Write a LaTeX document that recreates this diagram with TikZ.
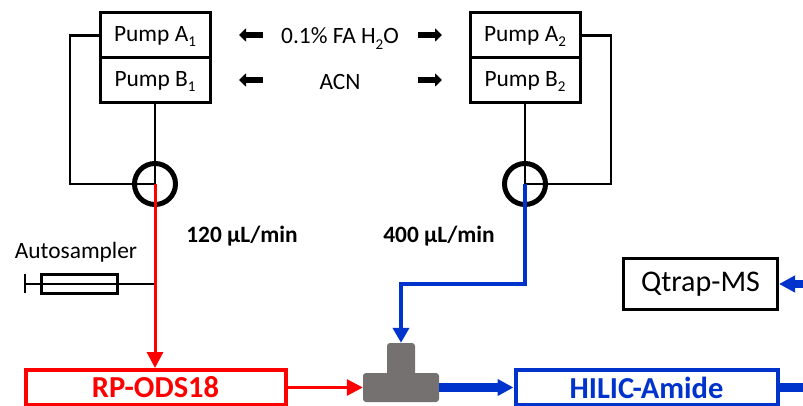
\documentclass[tikz,border=0pt]{standalone}
\usepackage{fontspec}
\setmainfont{Carlito}
\usetikzlibrary{arrows.meta}
\definecolor{hblue}{HTML}{0033CC}
\definecolor{tgray}{HTML}{767171}
\newcommand{\lowsub}[1]{\smash{\raisebox{-0.25em}{\fontsize{15}{15}\selectfont #1}}}
\tikzset{
  pumpbox/.style={draw=black,line width=3pt,fill=white,minimum width=110pt,minimum height=45pt,inner sep=0pt,font=\fontsize{23.4}{26}\selectfont},
  plain/.style={inner sep=0pt,font=\fontsize{23.4}{26}\selectfont},
  boldlabel/.style={inner sep=0pt,font=\fontsize{23.4}{26}\selectfont\bfseries},
  valve/.style={circle,draw=black,line width=5pt,minimum size=41pt,inner sep=0pt},
  tube/.style={draw=black,line width=2.9pt},
  column/.style={draw,line width=4pt,fill=white,minimum width=260pt,minimum height=35pt,inner sep=0pt,font=\fontsize{30.5}{32}\selectfont\bfseries},
  solvent/.style={-{Triangle[width=13pt,length=7pt]},line width=6.5pt,black},
  redthin/.style={draw=red,line width=3pt,-{Triangle[width=16pt,length=16pt]}},
  bluemid/.style={draw=hblue,line width=4.2pt,-{Triangle[width=16pt,length=15pt]}},
  bluethick/.style={draw=hblue,line width=8.5pt,-{Triangle[width=16pt,length=16pt]}},
  bluebar/.style={draw=hblue,line width=8.5pt},
  teepart/.style={fill=tgray,rounded corners=3pt,draw=none,inner sep=0pt},
}
\begin{document}
\begin{tikzpicture}[x=1pt,y=-1pt]
\useasboundingbox (0,0) rectangle (803,406);
\clip (0,0) rectangle (803,406);
\fill[white] (0,0) rectangle (803,406);
% free coordinates
\coordinate (loopL1) at (70,35.5);
\coordinate (loopL2) at (70,184);
\coordinate (loopR1) at (611,35.5);
\coordinate (loopR2) at (611,184);
\coordinate (junction) at (155,284);
\coordinate (bendA) at (525,284);
\coordinate (bendB) at (401,284);
\coordinate (edgeQ) at (803,284);
\coordinate (edgeH) at (803,387.5);
\coordinate (sbar) at (25,284);
\coordinate (sbarT) at (25,274);
\coordinate (sbarB) at (25,293);
% tee
\node[teepart,minimum width=28pt,minimum height=40pt] (teetop) at (401,363) {};
\node[teepart,minimum width=76pt,minimum height=29pt] (tee) at (401,387.5) {};
% nodes
\node[pumpbox] (a1) at (155,35.5) {Pump A\lowsub{1}};
\node[pumpbox] (b1) at (155,80.5) {Pump B\lowsub{1}};
\node[pumpbox] (a2) at (525,35.5) {Pump A\lowsub{2}};
\node[pumpbox] (b2) at (525,80.5) {Pump B\lowsub{2}};
\node[valve] (v1) at (155,184) {};
\node[valve] (v2) at (525,184) {};
\node[plain] (fa) at (340,36) {0.1\% FA H\lowsub{2}O};
\node[plain] (acn) at (340,81.5) {ACN};
\node[boldlabel] (r1) at (242,236) {120 µL/min};
\node[boldlabel] (r2) at (439,236) {400 µL/min};
\node[plain] (auto) at (76,252.5) {Autosampler};
\node[draw=black,line width=2.4pt,fill=white,minimum width=76pt,minimum height=19pt,inner sep=0pt] (syr) at (79.5,284) {};
\node[column,draw=red,text=red] (rp) at (155.5,387.5) {RP-ODS18};
\node[column,draw=hblue,text=hblue,minimum width=262pt] (hil) at (646.5,387.5) {HILIC-Amide};
\node[draw=black,line width=3pt,minimum width=154pt,minimum height=51pt,inner sep=0pt,font=\fontsize{30}{32}\selectfont] (q) at (700.5,284) {Qtrap-MS};
% solvent arrows
\coordinate (sa1) at (263,35); \coordinate (ea1) at (239,35);
\coordinate (sa2) at (418,35); \coordinate (ea2) at (442,35);
\coordinate (sb1) at (263,80); \coordinate (eb1) at (239,80);
\coordinate (sb2) at (418,80); \coordinate (eb2) at (442,80);
\draw[solvent] (sa1) -- (ea1);
\draw[solvent] (sa2) -- (ea2);
\draw[solvent] (sb1) -- (eb1);
\draw[solvent] (sb2) -- (eb2);
% loops
\draw[tube] (a1.west) -- (loopL1) -- (loopL2) -- (v1.center);
\draw[tube] (b1.south) -- (v1.center);
\draw[tube] (a2.east) -- (loopR1) -- (loopR2) -- (v2.center);
\draw[tube] (b2.south) -- (v2.center);
% autosampler
\draw[tube] (sbarT) -- (sbarB);
\draw[tube] (sbar) -- (syr.west);
\draw[tube] (syr.west) -- (syr.east);
\draw[tube] (syr.east) -- (junction);
% flows
\draw[redthin] (v1.center) -- (v1.center |- rp.north);
\draw[redthin] (rp.east) -- (tee.west);
\draw[bluemid] (v2.center) -- (bendA) -- (bendB) -- (teetop.north);
\draw[bluethick] (tee.east) -- (hil.west);
\draw[bluebar] (hil.east) -- (edgeH);
\draw[bluethick] (edgeQ) -- (q.east);
\end{tikzpicture}
\end{document}
